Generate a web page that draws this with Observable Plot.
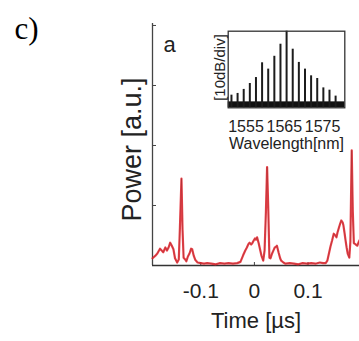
<!DOCTYPE html>
<html><head><meta charset="utf-8">
<script src="https://cdn.jsdelivr.net/npm/d3@7"></script>
<script src="https://cdn.jsdelivr.net/npm/@observablehq/plot@0.6"></script>
<style>
body{margin:0;background:#fff;}
#wrap{position:relative;width:359px;height:341px;overflow:hidden;}
#inset{position:absolute;left:200px;top:20px;}
#main{position:absolute;left:0;top:0;}
</style>
</head><body>
<div id="wrap"><div id="main"></div><div id="inset"></div></div>
<script>
// ---- main trace: time (µs) and power (a.u.)
const timeDomain = [-0.19, 0.196];
const powerDomain = [0, 4.033];
const timeTicks = [-0.1, 0, 0.1];
const powerTicks = [1, 2, 3, 4];
const times = [
 -0.19,-0.185,-0.181,-0.176,-0.172,-0.170,-0.166,-0.163,-0.160,-0.157,-0.154,-0.151,-0.148,-0.144,-0.141,-0.139,-0.136,-0.134,-0.132,-0.129,
 -0.127,-0.124,-0.121,-0.118,-0.116,-0.113,-0.110,-0.106,-0.100,-0.094,-0.088,-0.080,-0.072,-0.064,-0.056,-0.048,-0.040,-0.032,-0.026,-0.021,
 -0.017,-0.014,-0.011,-0.009,-0.006,-0.004,-0.001,0.001,0.003,0.005,0.008,0.011,0.013,0.0165,0.019,0.0215,0.0237,0.026,0.028,0.030,
 0.033,0.036,0.038,0.040,0.042,0.045,0.048,0.050,0.054,0.058,0.066,0.074,0.082,0.090,0.098,0.106,0.114,0.122,0.128,0.133,
 0.136,0.139,0.142,0.145,0.148,0.151,0.153,0.155,0.1576,0.160,0.162,0.1645,0.166,0.168,0.170,0.172,0.174,0.177,0.179,0.1815,
 0.1835,0.1855,0.188,0.190,0.192,0.194,0.196];
const powers = [
 0.12,0.16,0.20,0.28,0.24,0.22,0.30,0.25,0.30,0.38,0.33,0.27,0.12,0.05,0.10,0.60,1.45,0.60,0.13,0.10,
 0.07,0.15,0.20,0.28,0.27,0.16,0.09,0.05,0.04,0.03,0.04,0.03,0.02,0.04,0.03,0.04,0.03,0.04,0.06,0.17,
 0.25,0.30,0.36,0.38,0.35,0.37,0.42,0.45,0.43,0.47,0.37,0.25,0.17,0.08,0.25,0.90,1.64,0.90,0.13,0.12,
 0.20,0.26,0.30,0.31,0.33,0.22,0.12,0.08,0.05,0.03,0.04,0.03,0.02,0.04,0.03,0.04,0.03,0.05,0.04,0.04,
 0.08,0.20,0.32,0.42,0.53,0.50,0.47,0.55,0.63,0.70,0.75,0.72,0.67,0.55,0.42,0.30,0.20,0.13,0.40,1.92,
 0.90,0.37,0.36,0.34,0.33,0.38,0.42];
const trace = times.map((t, i) => ({t, p: powers[i]}));

// ---- inset spectrum: wavelength (nm) and level (dB)
const wlDomain = [1550.35, 1580.8];
const dbDomain = [-40, 0];
const wlTicks = [1555, 1565, 1575];
const wavelengths = [1551.2,1552.8,1554.4,1556.0,1557.6,1559.2,1560.8,1562.4,1564.0,1565.6,1567.2,1568.8,1570.4,1572.0,1573.6,1575.2,1576.8,1578.4];
const levels = [-33.4,-32.5,-30.4,-27.3,-24.2,-16.5,-19.8,-13.1,-6.8,0,-9.4,-16.3,-19.8,-23.3,-24.7,-29.6,-30.8,-33.9];
const noiseFloor = [-36.9];
const lines = wavelengths.map((w, i) => ({w, db: levels[i]}));

const font = "'Liberation Sans', Arial, sans-serif";
const W = 359, H = 341, ML = 152, MR = 0, MT = 23, MB = 76;

const main = Plot.plot({
  width: W, height: H,
  marginLeft: ML, marginRight: MR, marginTop: MT, marginBottom: MB,
  style: {fontFamily: font, background: "transparent", color: "#222", overflow: "visible"},
  x: {domain: timeDomain},
  y: {domain: powerDomain, axis: null},
  marks: [
    Plot.axisX(timeTicks, {tickSize: 0, tickPadding: 18, fontSize: 21, tickFormat: d => String(d), label: null}),
    Plot.tickX(timeTicks, {x: d => d, insetTop: (H - MT - MB) - 3, stroke: "#444"}),
    Plot.tickY(powerTicks, {y: d => d, insetRight: (W - ML - MR) - 4, stroke: "#444"}),
    Plot.ruleX([timeDomain[0]], {stroke: "#444", strokeWidth: 1.3}),
    Plot.ruleY([powerDomain[0]], {stroke: "#333", strokeWidth: 1.3}),
    Plot.line(trace, {x: "t", y: "p", stroke: "#e8232d", strokeWidth: 2.2, strokeOpacity: 0.85}),
    Plot.line(trace, {x: "t", y: "p", stroke: "#7a1c1c", strokeWidth: 0.7, strokeOpacity: 0.45}),
    Plot.text(["Time [µs]"], {frameAnchor: "bottom", dy: 55, fontSize: 22, lineAnchor: "middle", fill: "#222"}),
    Plot.text(["Power [a.u.]"], {frameAnchor: "left", dx: -20, dy: 5, rotate: -90, fontSize: 27, textAnchor: "middle", lineAnchor: "middle", fill: "#222"}),
    Plot.text(["a"], {frameAnchor: "top-left", dx: 11, dy: 28, textAnchor: "start", lineAnchor: "bottom", fontSize: 22, fill: "#222"}),
    Plot.text(["c)"], {frameAnchor: "top-left", dx: -138, dy: 15, textAnchor: "start", lineAnchor: "bottom", fontSize: 31, fontFamily: "'Liberation Serif', 'Times New Roman', serif", fill: "#000"})
  ]
});
document.getElementById("main").appendChild(main);

const inset = Plot.plot({
  width: 150, height: 140,
  marginLeft: 27.7, marginRight: 5.7, marginTop: 10.7, marginBottom: 52.7,
  style: {fontFamily: font, background: "transparent", color: "#222", overflow: "visible"},
  x: {domain: wlDomain},
  y: {domain: dbDomain, axis: null},
  marks: [
    Plot.rect(noiseFloor, {y1: dbDomain[0], y2: d => d, fill: "#111"}),
    Plot.ruleX(lines, {x: "w", y1: dbDomain[0], y2: "db", stroke: "#1c1c1c", strokeWidth: 2}),
    Plot.frame({stroke: "#333", strokeWidth: 1.3}),
    Plot.axisX(wlTicks, {tickSize: 0, tickPadding: 13, fontSize: 16, tickFormat: d => String(d), label: null}),
    Plot.text(["Wavelength[nm]"], {frameAnchor: "bottom", dy: 35.7, fontSize: 16, lineAnchor: "middle", fill: "#222"}),
    Plot.text(["[10dB/div]"], {frameAnchor: "left", dx: -7.7, dy: -2, rotate: -90, fontSize: 15, textAnchor: "middle", lineAnchor: "middle", fill: "#222"})
  ]
});
document.getElementById("inset").appendChild(inset);
</script>
</body></html>
